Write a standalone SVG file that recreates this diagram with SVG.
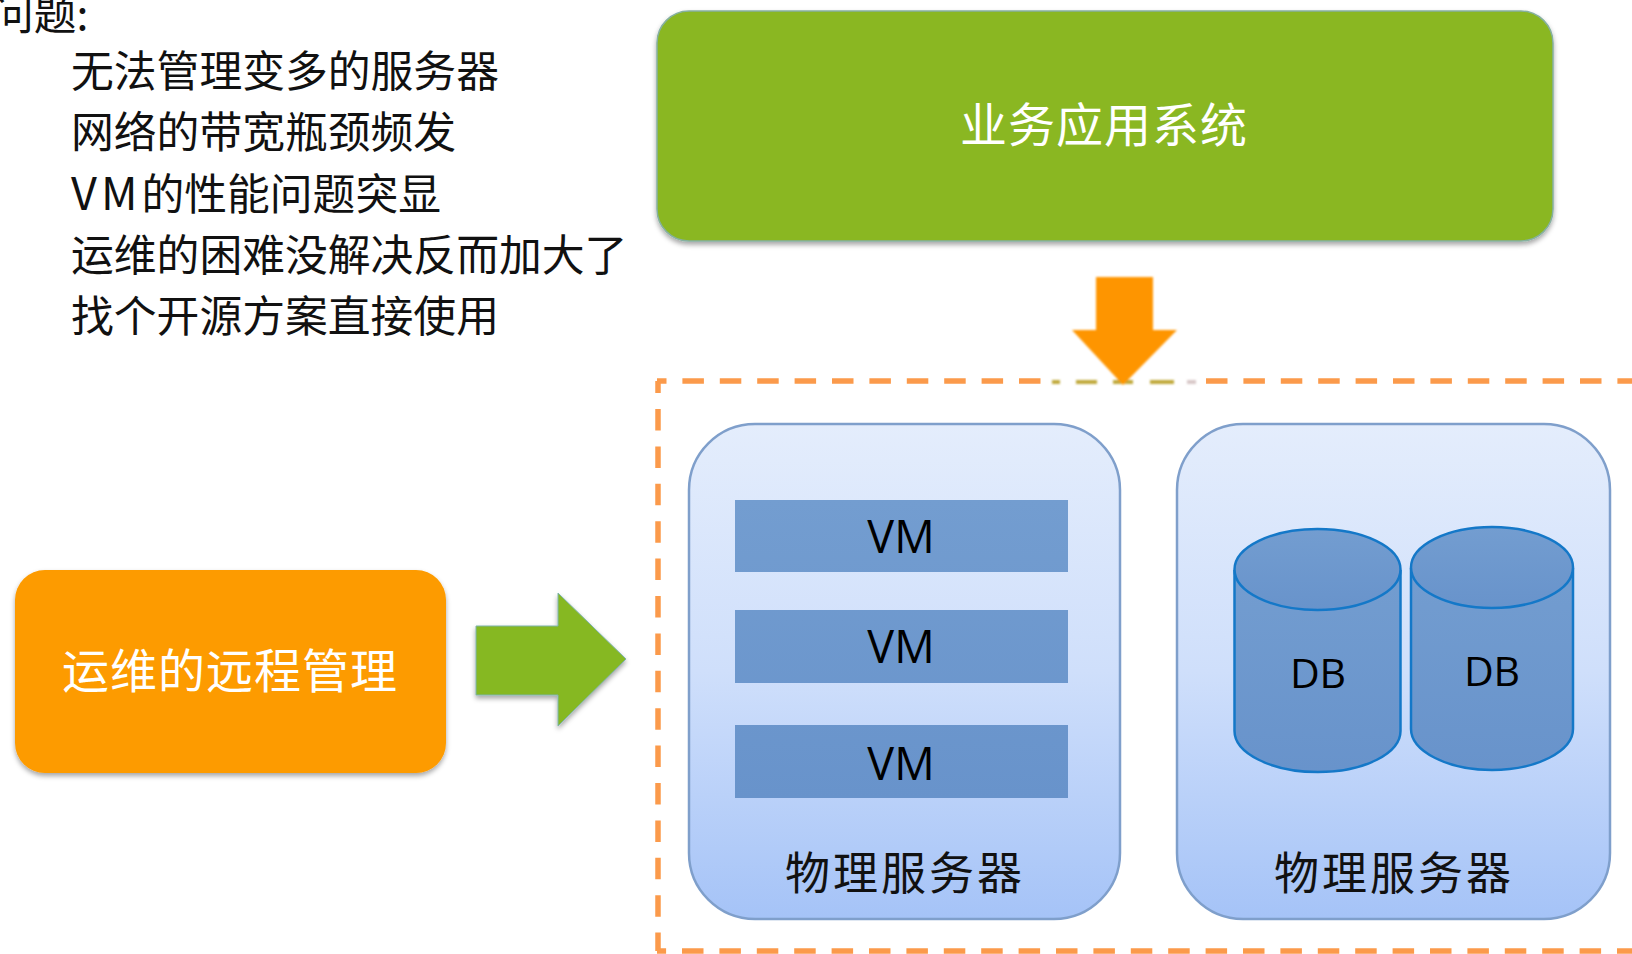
<svg xmlns="http://www.w3.org/2000/svg" width="1632" height="954" viewBox="0 0 1632 954">
<style>
.cjk{font-family:"Noto Sans CJK SC","Noto Sans",sans-serif}
.lat{font-family:"Open Sans","Noto Sans",sans-serif;fill:#000;font-size:41px;text-anchor:middle}
.vml{font-size:45px}
.big{font-size:47px;fill:#fff;text-anchor:middle;letter-spacing:1px}
.srv{font-size:45px;fill:#111;text-anchor:middle;letter-spacing:3px}
.list{font-size:42.8px;fill:#111}
.server{fill:url(#srv);stroke:#7f9fcb;stroke-width:2.5}
.vm{fill:url(#vmg)}
.cyl{fill:url(#cylg);stroke:#1478c8;stroke-width:2.5}
.dash{fill:none;stroke:#fb9a4b;stroke-width:5.500;stroke-dasharray:21.500 15.900}
</style>
<defs>
<linearGradient id="srv" x1="0" y1="0" x2="0" y2="1"><stop offset="0" stop-color="#e4edfc"/><stop offset="0.5" stop-color="#cfdffb"/><stop offset="1" stop-color="#a5c3f7"/></linearGradient>
<linearGradient id="vmg" gradientUnits="userSpaceOnUse" x1="0" y1="500" x2="0" y2="798"><stop offset="0" stop-color="#739dd0"/><stop offset="1" stop-color="#6893cb"/></linearGradient>
<linearGradient id="cylg" x1="0" y1="0" x2="0" y2="1"><stop offset="0" stop-color="#739dd0"/><stop offset="1" stop-color="#6893cb"/></linearGradient>
<filter id="sh" x="-5%" y="-5%" width="110%" height="115%"><feDropShadow dx="0" dy="3" stdDeviation="2.5" flood-color="#000" flood-opacity="0.35"/></filter>
<filter id="soft" filterUnits="userSpaceOnUse" x="1040" y="260" width="170" height="150"><feGaussianBlur stdDeviation="1.2"/></filter>
</defs>
<rect width="1632" height="954" fill="#fff"/>
<g id="issues" class="cjk list">
<text x="-9" y="30">问题:</text>
<text x="71" y="87">无法管理变多的服务器</text>
<text x="71" y="148">网络的带宽瓶颈频发</text>
<text x="71" y="210"><tspan letter-spacing="4" font-size="45">VM</tspan>的性能问题突显</text>
<text x="71" y="271">运维的困难没解决反而加大了</text>
<text x="71" y="332">找个开源方案直接使用</text>
</g>
<g id="app-system">
<rect x="657" y="11" width="896" height="230" rx="32" fill="#8ab723" stroke="#86b0a0" stroke-width="1.500" filter="url(#sh)"/>
<text class="cjk big" x="1104" y="142">业务应用系统</text>
</g>
<g id="remote-ops">
<rect x="15" y="570" width="431" height="203" rx="30" fill="#fd9b06" filter="url(#sh)"/>
<text class="cjk big" x="230" y="688">运维的远程管理</text>
</g>
<g id="boundary">
<path class="dash" d="M657 381H1632" style="stroke-dashoffset:12"/>
<path class="dash" d="M658 381V951" style="stroke-dashoffset:9.4"/>
<path class="dash" d="M657 951H1632" style="stroke-dashoffset:12.4"/>
</g>
<g id="server-vm">
<rect class="server" x="689" y="424" width="431" height="495" rx="66"/>
<g id="vm-1"><rect class="vm" x="735" y="500" width="333" height="72"/><text class="lat vml" x="901" y="553">VM</text></g>
<g id="vm-2"><rect class="vm" x="735" y="610" width="333" height="73"/><text class="lat vml" x="901" y="663">VM</text></g>
<g id="vm-3"><rect class="vm" x="735" y="725" width="333" height="73"/><text class="lat vml" x="901" y="780">VM</text></g>
<text class="cjk srv" x="905" y="890">物理服务器</text>
</g>
<g id="server-db">
<rect class="server" x="1177" y="424" width="433" height="495" rx="66"/>
<g id="db-1">
<path class="cyl" d="M1234.500 570V731C1234.500 753 1271 772 1318 772S1400.500 753 1400.500 731V570"/>
<ellipse class="cyl" cx="1317.500" cy="569.500" rx="83" ry="40.500"/>
<text class="lat" x="1318" y="688">DB</text>
</g>
<g id="db-2">
<path class="cyl" d="M1411 568V729C1411 751 1447 770 1492 770S1573 751 1573 729V568"/>
<ellipse class="cyl" cx="1492" cy="567.500" rx="81" ry="40.500"/>
<text class="lat" x="1492" y="686">DB</text>
</g>
<text class="cjk srv" x="1394" y="890">物理服务器</text>
</g>
<g id="connectors">
<g id="arrow-down">
<rect x="1052" y="269" width="144" height="136" fill="#fff"/>
<g filter="url(#soft)">
<path d="M1052 382h8M1076 382h21M1113 382h20M1150 382h24" stroke="#c0a93a" stroke-width="4" fill="none"/>
<path d="M1187 382h9" stroke="#d8c8c8" stroke-width="4" fill="none"/>
<path d="M1096 277H1153V330H1177L1123 385L1072 330H1096Z" fill="#fe9505"/>
</g>
</g>
<path id="arrow-right" d="M476 626H558V593L626 659L558 726V695H476Z" fill="#86b824" stroke="#7cb3a8" stroke-width="1" filter="url(#sh)"/>
</g>
</svg>
